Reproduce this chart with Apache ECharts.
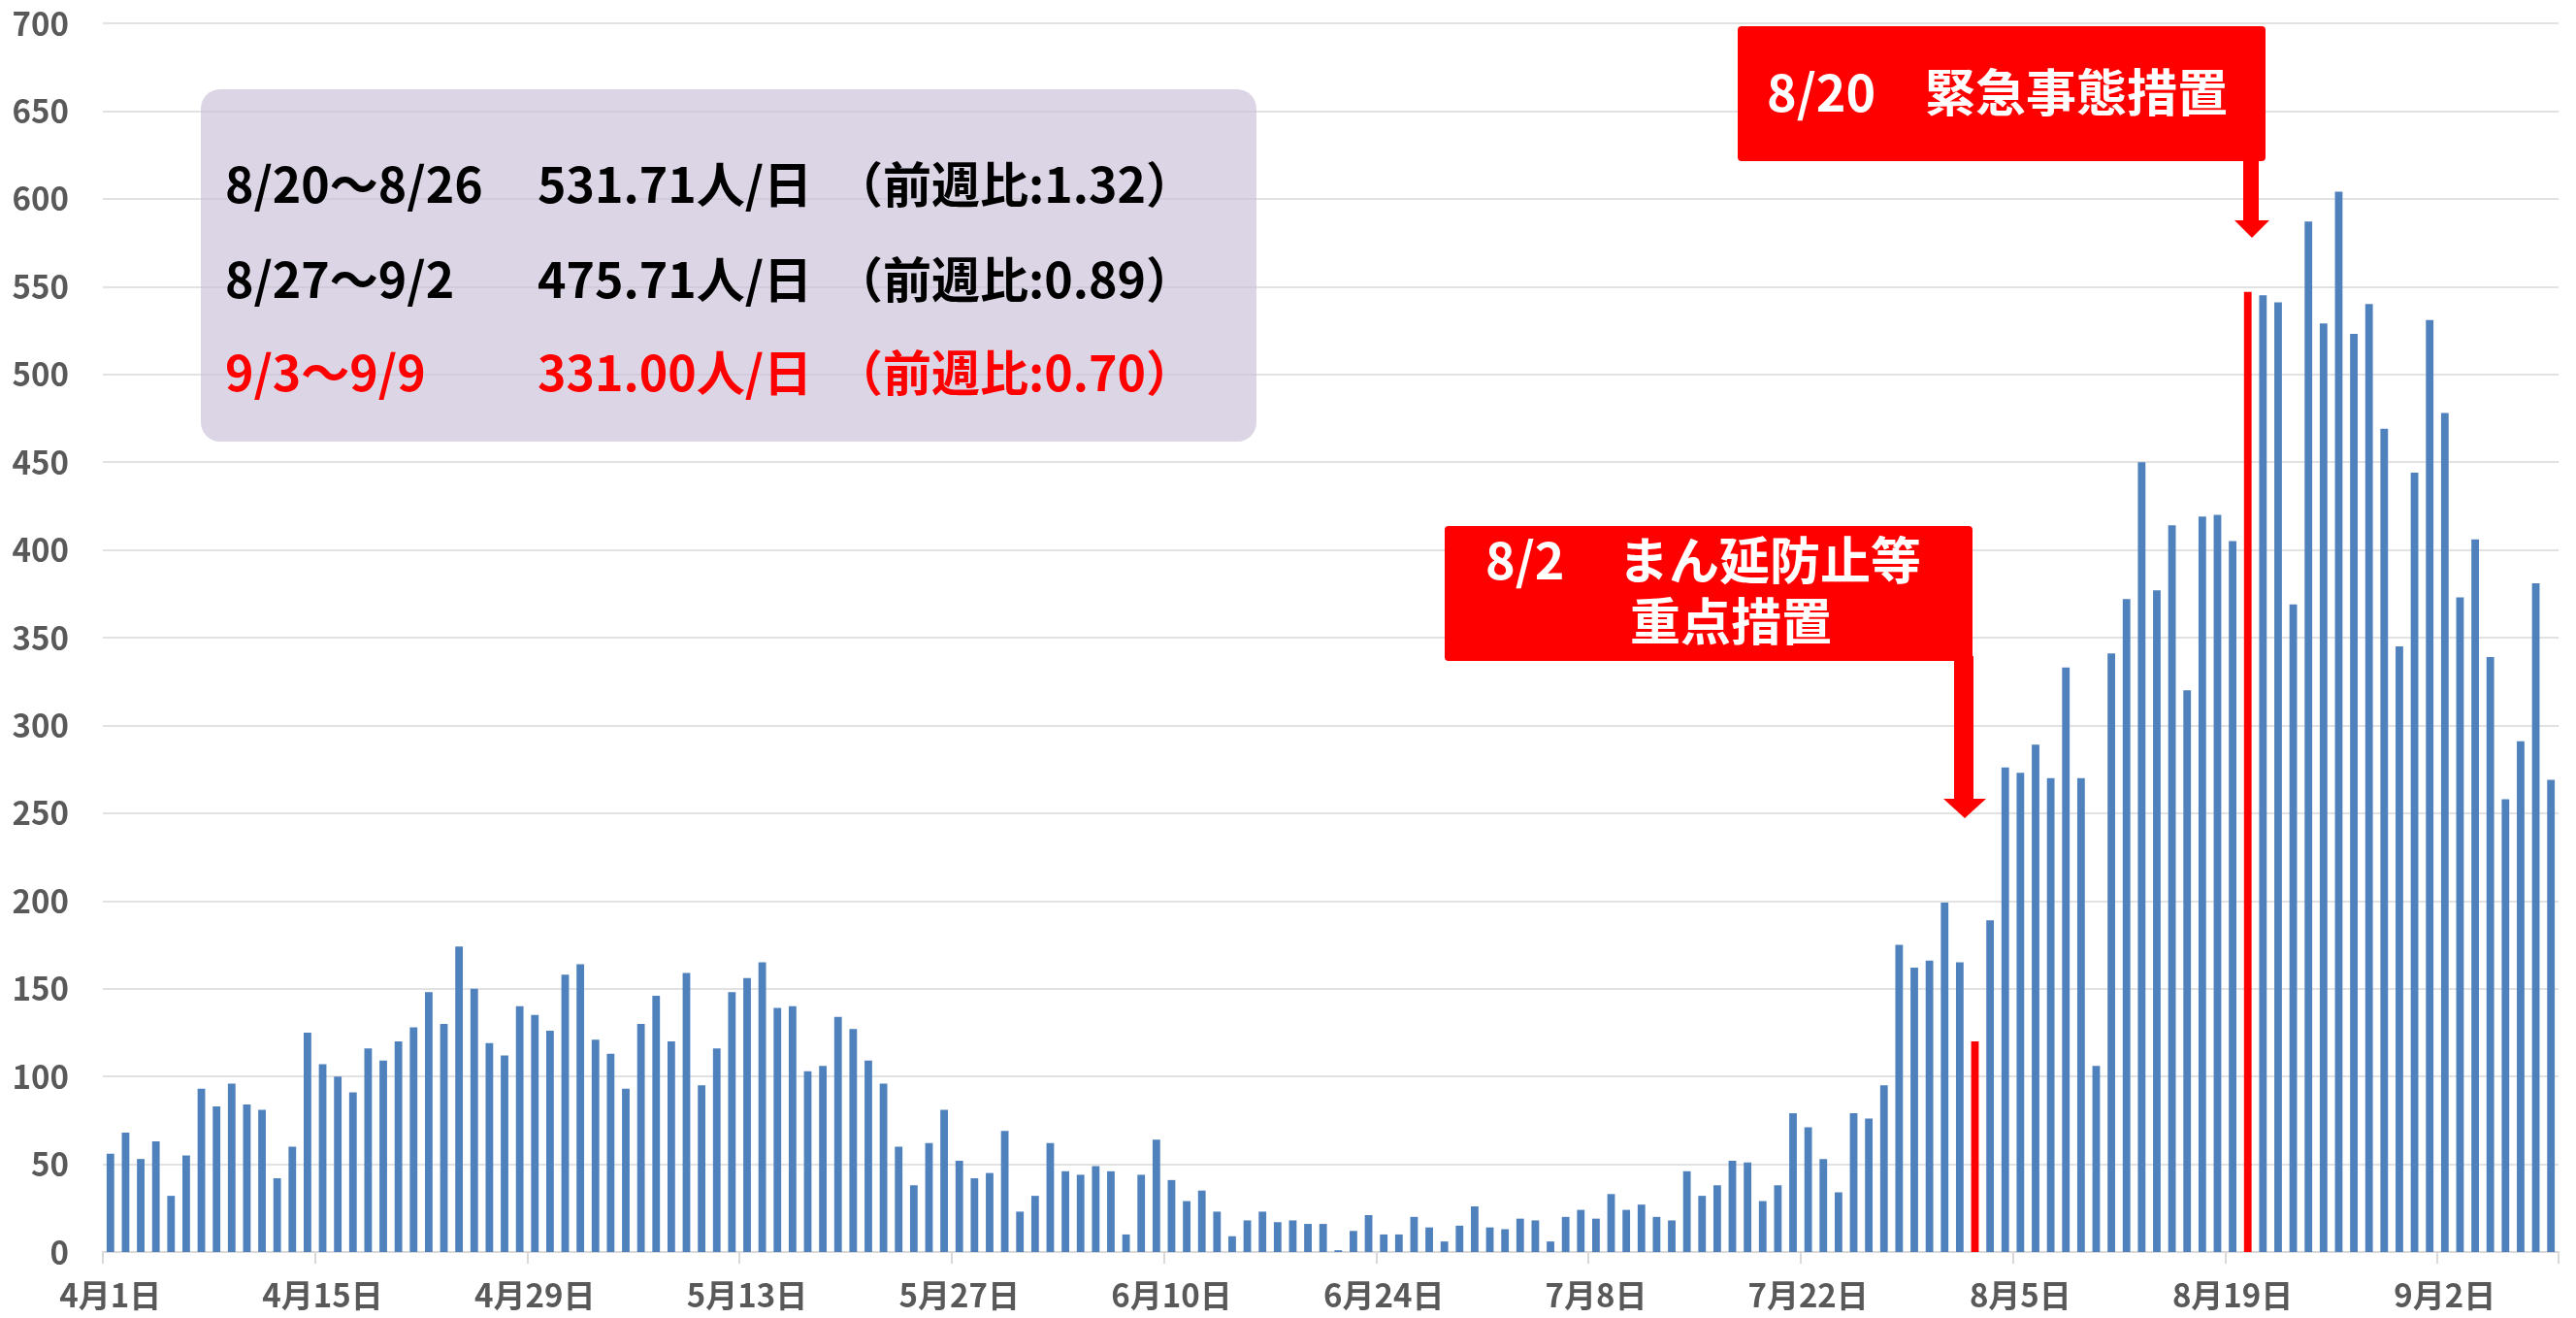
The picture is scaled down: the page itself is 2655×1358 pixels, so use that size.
<!DOCTYPE html>
<html lang="ja">
<head>
<meta charset="utf-8">
<title>新規陽性者数の推移</title>
<script src="https://cdn.jsdelivr.net/npm/echarts@6/dist/echarts.min.js"></script>
<style>
  html, body { margin: 0; padding: 0; background: #ffffff; }
  #chart { width: 2655px; height: 1358px; }
</style>
</head>
<body>
<div id="chart"></div>
<script>
// 日別の新規陽性者数（4/1〜9/9）
const months = [4, 5, 6, 7, 8, 9];
const aprCases = [56, 68, 53, 63, 32, 55, 93, 83, 96, 84, 81, 42, 60, 125, 107,
  100, 91, 116, 109, 120, 128, 148, 130, 174, 150, 119, 112, 140, 135, 126];
const mayCases = [158, 164, 121, 113, 93, 130, 146, 120, 159, 95, 116, 148, 156, 165, 139,
  140, 103, 106, 134, 127, 109, 96, 60, 38, 62, 81, 52, 42, 45, 69, 23];
const junCases = [32, 62, 46, 44, 49, 46, 10, 44, 64, 41, 29, 35, 23, 9, 18,
  23, 17, 18, 16, 16, 1, 12, 21, 10, 10, 20, 14, 6, 15, 26];
const julCases = [14, 13, 19, 18, 6, 20, 24, 19, 33, 24, 27, 20, 18, 46, 32,
  38, 52, 51, 29, 38, 79, 71, 53, 34, 79, 76, 95, 175, 162, 166, 199];
const augCases = [165, 120, 189, 276, 273, 289, 270, 333, 270, 106, 341, 372, 450, 377, 414,
  320, 419, 420, 405, 547, 545, 541, 369, 587, 529, 604, 523, 540, 469, 345, 444];
const sepCases = [531, 478, 373, 406, 339, 258, 291, 381, 269];

// 措置開始日（赤い棒）
const measureDays = ['8月2日', '8月20日'];

// 週平均の表示
const weekPeriods = ['8/20～8/26', '8/27～9/2', '9/3～9/9'];
const weekAverages = ['531.71人/日', '475.71人/日', '331.00人/日'];
const weekRatios = ['（前週比:1.32）', '（前週比:0.89）', '（前週比:0.70）'];
const weekColors = ['#000000', '#000000', '#ff0000'];

const yMin = 0;
const yMax = 700;
const yStep = 50;

const dayLabels = [];
const dailyCases = [];
[aprCases, mayCases, junCases, julCases, augCases, sepCases].forEach((list, m) => {
  list.forEach((v, d) => {
    dayLabels.push(`${months[m]}月${d + 1}日`);
    dailyCases.push(v);
  });
});

const FONT = '"Noto Sans CJK JP", "Noto Sans", sans-serif';
const BLUE = '#4f81bd';
const RED = '#ff0000';

const barData = dailyCases.map((v, i) =>
  measureDays.includes(dayLabels[i])
    ? { value: v, itemStyle: { color: RED } }
    : v
);

// 注記（週平均の枠・措置の吹き出し）
const textEl = (text, x, y, size, color) => ({
  type: 'text',
  x: x,
  y: y,
  z: 20,
  style: {
    text: text,
    fill: color,
    fontSize: size,
    fontWeight: 'bold',
    fontFamily: FONT,
    textAlign: 'left',
    textVerticalAlign: 'middle',
  },
});

const rowY = [190, 288, 384];
const graphics = [
  {
    type: 'rect',
    z: 10,
    shape: { x: 207, y: 92, width: 1088, height: 363, r: 20 },
    style: { fill: 'rgba(200,190,215,0.65)' },
  },
];
rowY.forEach((y, i) => {
  graphics.push(textEl(weekPeriods[i], 232, y, 50, weekColors[i]));
  graphics.push(textEl(weekAverages[i], 554, y, 50, weekColors[i]));
  graphics.push(textEl(weekRatios[i], 860, y, 50, weekColors[i]));
});

// 8/2 まん延防止等重点措置
graphics.push(
  {
    type: 'rect',
    z: 10,
    shape: { x: 1489, y: 542, width: 544, height: 139, r: 4 },
    style: { fill: RED },
  },
  {
    type: 'polygon',
    z: 10,
    shape: {
      points: [[2014, 676], [2034, 676], [2034, 823], [2047, 823], [2025, 843], [2003, 823], [2014, 823]],
    },
    style: { fill: RED },
  },
  textEl('8/2', 1531, 577, 52, '#ffffff'),
  textEl('まん延防止等', 1668, 577, 52, '#ffffff'),
  textEl('重点措置', 1680, 640, 52, '#ffffff')
);

// 8/20 緊急事態措置
graphics.push(
  {
    type: 'rect',
    z: 10,
    shape: { x: 1791, y: 27, width: 544, height: 139, r: 4 },
    style: { fill: RED },
  },
  {
    type: 'polygon',
    z: 10,
    shape: {
      points: [[2312, 162], [2328, 162], [2328, 227], [2339, 227], [2321, 245], [2303, 227], [2312, 227]],
    },
    style: { fill: RED },
  },
  textEl('8/20', 1821, 95, 52, '#ffffff'),
  textEl('緊急事態措置', 1984, 95, 52, '#ffffff')
);

const chart = echarts.init(document.getElementById('chart'), null, { renderer: 'canvas' });

chart.setOption({
  backgroundColor: '#ffffff',
  animation: false,
  grid: {
    left: 106,
    right: 18,
    top: 24,
    bottom: 68,
    containLabel: false,
    outerBoundsMode: 'none',
  },
  xAxis: {
    type: 'category',
    data: dayLabels,
    boundaryGap: true,
    axisLine: { show: true, lineStyle: { color: '#d9d9d9', width: 2 } },
    axisTick: {
      show: true,
      interval: 13,
      length: 12,
      lineStyle: { color: '#d9d9d9', width: 2 },
    },
    axisLabel: {
      interval: 13,
      margin: 28,
      color: '#595959',
      fontSize: 33,
      fontWeight: 'bold',
      fontFamily: FONT,
    },
    splitLine: { show: false },
  },
  yAxis: {
    type: 'value',
    min: yMin,
    max: yMax,
    interval: yStep,
    axisLine: { show: false },
    axisTick: { show: false },
    axisLabel: {
      margin: 35,
      color: '#595959',
      fontSize: 33,
      fontWeight: 'bold',
      fontFamily: FONT,
    },
    splitLine: { lineStyle: { color: '#d9d9d9', width: 1.5 } },
  },
  series: [
    {
      type: 'bar',
      data: barData,
      barWidth: '50%',
      itemStyle: { color: BLUE },
    },
  ],
  graphic: graphics,
});

window.addEventListener('resize', () => chart.resize());
</script>
</body>
</html>
